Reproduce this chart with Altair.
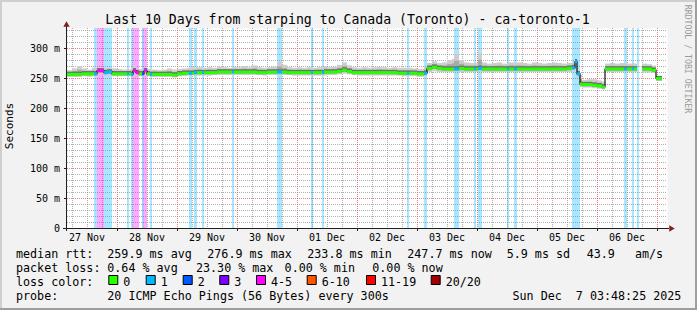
import altair as alt
import pandas as pd

# ---------------- data (hours since 27 Nov 00:00) ----------------
seg_start = [4, 6, 8, 10, 12, 14, 14.8, 16, 18.8, 20, 22, 24, 26, 28, 28.8, 29.6, 30.4, 31.6, 32.8, 34,
             34.8, 36, 37.2, 38, 40, 42, 44, 46, 48, 50, 52, 52.8, 54, 54.8, 56, 58, 58.8, 60, 62, 64,
             66, 68, 70, 70.8, 72, 74, 76, 78, 80, 82, 84, 86, 88, 90, 92, 94, 96, 98, 100, 101.6,
             102.4, 104, 106, 106.8, 108, 110, 112, 114, 116, 118, 120, 122, 124, 126, 128, 130, 132, 134, 136, 138,
             140, 140.8, 142, 144, 146.8, 148, 150, 152, 154, 156, 158, 158.8, 160.8, 162.8, 164.8, 166.8, 167.6, 168.4, 170, 172,
             174, 176, 178, 180, 180.8, 182.8, 184, 186, 188, 190, 192, 194, 196, 198, 200, 202, 204, 206, 207.2, 208,
             209.2, 210, 212, 214, 216, 218, 219.2, 221.2, 223.2, 225.2, 226.8, 228, 230, 230.8, 232, 232.8, 234, 236, 238, 239.6]
seg_median = [256, 256, 256, 257, 257, 257, 257, 262, 259, 260, 257, 257, 257, 257, 257, 256, 262, 259, 257, 257,
              262, 257, 256, 256, 256, 256, 256, 255, 257, 258, 258, 258, 258, 259, 259, 259, 259, 259, 259, 260,
              260, 260, 260, 260, 260, 260, 260, 260, 259, 259, 260, 260, 260, 260, 259, 259, 259, 259, 259, 259,
              259, 259, 259, 260, 260, 260, 261, 263, 261, 259, 259, 259, 259, 259, 259, 259, 259, 259, 258, 258,
              258, 258, 258, 257, 258, 266, 268, 266, 265, 265, 265, 265, 266, 265, 265, 265, 265, 266, 265, 265,
              265, 265, 265, 265, 265, 265, 265, 265, 265, 265, 265, 265, 265, 265, 265, 265, 266, 267, 277, 257,
              240, 239, 239, 238, 237, 235, 265, 265, 265, 265, 265, 265, 265, 265, None, None, 265, 265, 263, 249]
seg_low = [252, 252, 252, 253, 252, 253, 253, 256, 254, 254, 253, 253, 253, 253, 253, 253, 255, 254, 253, 253,
           255, 253, 253, 252, 252, 252, 252, 251, 253, 253, 254, 254, 254, 254, 254, 254, 254, 254, 255, 255,
           255, 255, 255, 255, 255, 255, 255, 255, 255, 254, 255, 255, 255, 255, 255, 254, 254, 254, 254, 254,
           254, 254, 254, 254, 255, 255, 256, 257, 256, 255, 254, 254, 254, 254, 254, 254, 254, 254, 254, 253,
           253, 253, 253, 252, 253, 260, 261, 260, 260, 260, 260, 260, 260, 260, 260, 260, 260, 260, 260, 260,
           260, 260, 260, 260, 260, 260, 260, 260, 260, 260, 260, 260, 260, 260, 260, 260, 260, 261, 265, 250,
           235, 234, 234, 233, 232, 231, 260, 260, 260, 260, 260, 260, 260, 260, None, None, 259, 259, 258, 245]
seg_high = [263, 266, 270, 266, 264, 267, 266, 268, 266, 267, 266, 265, 264, 266, 264, 267, 270, 266, 265, 265,
            268, 265, 264, 264, 263, 264, 266, 264, 265, 266, 267, 266, 268, 267, 268, 266, 267, 268, 267, 269,
            268, 267, 268, 269, 268, 270, 268, 271, 268, 267, 268, 269, 277, 272, 268, 267, 268, 267, 268, 267,
            267, 268, 268, 270, 268, 269, 272, 276, 271, 268, 267, 268, 267, 268, 269, 268, 267, 268, 267, 267,
            266, 267, 266, 265, 268, 275, 278, 275, 276, 280, 282, 290, 280, 276, 275, 276, 275, 292, 276, 274,
            275, 276, 274, 275, 276, 275, 276, 275, 274, 276, 275, 274, 275, 276, 275, 274, 275, 277, 280, 264,
            255, 247, 248, 248, 246, 244, 274, 275, 274, 275, 275, 274, 275, 274, None, None, 274, 273, 271, 253]
seg_loss = [0, 0, 0, 0, 0, 0, 1, 4, 1, 1, 0, 0, 0, 1, 0, 1, 4, 4, 0, 2,
            4, 0, 1, 0, 0, 0, 0, 0, 0, 0, 0, 1, 0, 1, 0, 1, 0, 0, 0, 0,
            0, 0, 1, 0, 0, 0, 0, 0, 0, 0, 0, 0, 1, 0, 0, 0, 0, 0, 0, 1,
            0, 0, 1, 0, 0, 0, 0, 0, 0, 0, 0, 0, 0, 0, 0, 0, 0, 0, 0, 0,
            1, 0, 0, 0, 1, 0, 0, 0, 0, 0, 0, 1, 0, 0, 0, 1, 0, 1, 0, 0,
            0, 0, 0, 1, 0, 1, 0, 0, 0, 0, 0, 0, 0, 0, 0, 0, 0, 1, 1, 1,
            0, 0, 0, 0, 0, 0, 0, 0, 0, 0, 1, 0, 1, 0, 1, 0, 0, 0, 0, 0]
data_end = 242

day_noon_hours = [12, 36, 60, 84, 108, 132, 156, 180, 204, 228]
day_labels = ["27 Nov", "28 Nov", "29 Nov", "30 Nov", "01 Dec", "02 Dec", "03 Dec", "04 Dec", "05 Dec", "06 Dec"]
y_tick_values = [0, 50, 100, 150, 200, 250, 300]
y_tick_labels = ["0", "50 m", "100 m", "150 m", "200 m", "250 m", "300 m"]

loss_labels = ["0", "1", "2", "3", "4-5", "6-10", "11-19", "20/20"]
loss_colors = ["#26ff00", "#00b8ff", "#0059ff", "#7e00ff", "#ff00ff", "#ff5500", "#ff0000", "#a10000"]

title_text = "Last 10 Days from starping to Canada (Toronto) - ca-toronto-1"
rtt_stats = ["259.9 ms avg", "276.9 ms max", "233.8 ms min", "247.7 ms now", "5.9 ms sd", "43.9", "am/s"]
loss_stats = ["0.64 % avg", "23.30 % max", "0.00 % min", "0.00 % now"]
probe_text = "20 ICMP Echo Pings (56 Bytes) every 300s"
date_text = "Sun Dec \u00a07 03:48:25 2025"

# ---------------- layout ----------------
W, H = 600, 200
PL, PT = 67, 28
MONO = "DejaVu Sans Mono"

ends = seg_start[1:] + [data_end]
df = pd.DataFrame(dict(start=seg_start, end=ends, median=seg_median, low=seg_low,
                       high=seg_high, loss=seg_loss))
df["median"] = df["median"].astype(float)
df["part"] = df["median"].isna().cumsum()

x_scale = alt.Scale(domain=[4, 244], nice=False, zero=False)
y_scale = alt.Scale(domain=[0, 1000 / 3], nice=False, zero=False)


def X(f):
    return alt.X(f, type="quantitative", scale=x_scale, axis=None)


def Y(f):
    return alt.Y(f, type="quantitative", scale=y_scale, axis=None)


layers = []

# grid
minor_y = [v for v in range(10, 334, 10) if v % 50]
major_y = [50, 100, 150, 200, 250, 300]
minor_x = [h for h in range(6, 244, 6) if h % 24]
major_x = [h for h in range(24, 244, 24)]

layers.append(alt.Chart(pd.DataFrame({"v": minor_y})).mark_rule(
    color="#8f8f8f", opacity=0.7, strokeDash=[1, 1], yOffset=0.5).encode(
    y=Y("v"), x=alt.value(0), x2=alt.value(W)))
layers.append(alt.Chart(pd.DataFrame({"v": minor_x})).mark_rule(
    color="#8f8f8f", opacity=0.7, strokeDash=[1, 1], xOffset=0.5).encode(
    x=X("v"), y=alt.value(0), y2=alt.value(H)))
layers.append(alt.Chart(pd.DataFrame({"v": major_y})).mark_rule(
    color="#de4f4f", opacity=0.7, strokeDash=[1, 1], yOffset=0.5).encode(
    y=Y("v"), x=alt.value(0), x2=alt.value(W)))
layers.append(alt.Chart(pd.DataFrame({"v": major_x})).mark_rule(
    color="#de4f4f", opacity=0.7, strokeDash=[1, 1], xOffset=0.5).encode(
    x=X("v"), y=alt.value(0), y2=alt.value(H + 3)))

base = alt.Chart(df)

# loss bands
for k in sorted(set(seg_loss)):
    if k == 0:
        continue
    layers.append(base.transform_filter(alt.datum.loss == k).mark_rect(
        color=loss_colors[k], opacity=0.34).encode(
        x=X("start"), x2="end", y=alt.value(0), y2=alt.value(H)))

# smoke
smoke = base.transform_filter("isValid(datum.median)")
layers.append(smoke.mark_rect(color="#cdcdcd").encode(x=X("start"), x2="end", y=Y("low"), y2="high"))
layers.append(smoke.transform_calculate(
    a="datum.median - 3", b="datum.median + (datum.high - datum.median) * 0.55").mark_rect(
    color="#a9a9a9").encode(x=X("start"), x2="end", y=Y("a:Q"), y2="b:Q"))
layers.append(smoke.transform_calculate(
    a="datum.median - 1.5", b="datum.median + 4.5").mark_rect(
    color="#6e6e6e").encode(x=X("start"), x2="end", y=Y("a:Q"), y2="b:Q"))

# median: black step connectors, then loss-coloured segments
layers.append(smoke.mark_line(interpolate="step-after", color="#111111", strokeWidth=1.2).encode(
    x=X("start"), y=Y("median"), detail="part:N"))
for k in sorted(set(seg_loss)):
    layers.append(smoke.transform_filter(alt.datum.loss == k).mark_rule(
        color=loss_colors[k], strokeWidth=3).encode(x=X("start"), x2="end", y=Y("median")))

# axes lines + arrows
AX = "#1f1f1f"
ARROW = "#801f1f"
one = pd.DataFrame({"a": [0]})
layers.append(alt.Chart(one).mark_rule(color=AX, strokeWidth=1).encode(
    x=alt.value(-4), x2=alt.value(W + 2), y=alt.value(H + 0.5)))
layers.append(alt.Chart(one).mark_rule(color=AX, strokeWidth=1).encode(
    x=alt.value(-0.5), y=alt.value(H + 3), y2=alt.value(-3)))
layers.append(alt.Chart(one).mark_point(shape="triangle-right", filled=True, color=ARROW,
                                        size=40, opacity=1).encode(
    x=alt.value(W + 5), y=alt.value(H + 0.5)))
layers.append(alt.Chart(one).mark_point(shape="triangle-up", filled=True, color=ARROW,
                                        size=40, opacity=1).encode(
    x=alt.value(-0.5), y=alt.value(-4)))
# small ticks
layers.append(alt.Chart(pd.DataFrame({"v": y_tick_values})).mark_rule(color=AX, yOffset=0.5).encode(
    y=Y("v"), x=alt.value(-3), x2=alt.value(0)))
layers.append(alt.Chart(pd.DataFrame({"v": major_x})).mark_rule(color=AX, xOffset=0.5).encode(
    x=X("v"), y=alt.value(H), y2=alt.value(H + 3)))

# axis labels
layers.append(alt.Chart(pd.DataFrame({"v": y_tick_values, "t": y_tick_labels})).mark_text(
    font=MONO, fontSize=10, align="right", baseline="alphabetic", dy=3.6, color="black").encode(
    y=Y("v"), x=alt.value(-7), text="t:N"))
layers.append(alt.Chart(pd.DataFrame({"v": day_noon_hours, "t": day_labels})).mark_text(
    font=MONO, fontSize=10, align="center", baseline="alphabetic", color="black").encode(
    x=X("v"), y=alt.value(213), text="t:N"))


def txt(s, x, y, size=11.7, align="left", angle=0, color="black", baseline="alphabetic"):
    return alt.Chart(pd.DataFrame({"t": [s]})).mark_text(
        font=MONO, fontSize=size, align=align, baseline=baseline, angle=angle, color=color).encode(
        text="t:N", x=alt.value(x - PL), y=alt.value(y - PT))


layers.append(txt(title_text, 347.5, 24, size=13.2, align="center"))
layers.append(txt("Seconds", 10, 126, size=11, align="center", angle=270, baseline="middle"))
layers.append(txt("RRDTOOL / TOBI OETIKER", 686.5, 59, size=8.2, align="center", angle=90,
                  color="#9a9a9a", baseline="middle"))

row1, row2, row3, row4 = 258.3, 272.3, 286.0, 300.0
layers.append(txt("median rtt:", 16, row1))
for s, x in zip(rtt_stats, [107.3, 207.3, 307.3, 407.3, 506.7, 586.7, 635]):
    layers.append(txt(s, x, row1))
layers.append(txt("packet loss:", 16, row2))
for s, x in zip(loss_stats, [107.3, 196, 284.6, 372.3]):
    layers.append(txt(s, x, row2))
layers.append(txt("loss color:", 16, row3))
box_x = [108.3, 145.7, 182.7, 219.3, 256, 306.7, 366, 430.7]
for lab, col, bx in zip(loss_labels, loss_colors, box_x):
    layers.append(alt.Chart(one).mark_rect(fill=col, stroke="black", strokeWidth=1).encode(
        x=alt.value(bx - PL + 0.5), x2=alt.value(bx - PL + 9.5),
        y=alt.value(275.5 - PT), y2=alt.value(284.5 - PT)))
    layers.append(txt(lab, bx + 15, row3))
layers.append(txt("probe:", 16, row4))
layers.append(txt(probe_text, 107.3, row4))
layers.append(txt(date_text, 512.5, row4))

# frame
layers.append(alt.Chart(one).mark_rule(color="#cfcfcf", strokeWidth=2).encode(
    x=alt.value(-PL), x2=alt.value(697 - PL), y=alt.value(-PT + 1)))
layers.append(alt.Chart(one).mark_rule(color="#cfcfcf", strokeWidth=2).encode(
    x=alt.value(-PL + 1), y=alt.value(-PT), y2=alt.value(310 - PT)))
layers.append(alt.Chart(one).mark_rule(color="#9e9e9e", strokeWidth=2).encode(
    x=alt.value(-PL), x2=alt.value(697 - PL), y=alt.value(310 - PT - 1)))
layers.append(alt.Chart(one).mark_rule(color="#9e9e9e", strokeWidth=2).encode(
    x=alt.value(697 - PL - 1), y=alt.value(-PT), y2=alt.value(310 - PT)))

chart = alt.layer(*layers).properties(
    width=W, height=H,
    padding={"left": PL, "top": PT, "right": 697 - PL - W, "bottom": 310 - PT - H},
    autosize=alt.AutoSizeParams(type="none"),
    background="#f2f2f2",
).configure_view(fill="white", stroke="transparent")

chart.save("out.html", embed_options={"renderer": "svg", "actions": False})
